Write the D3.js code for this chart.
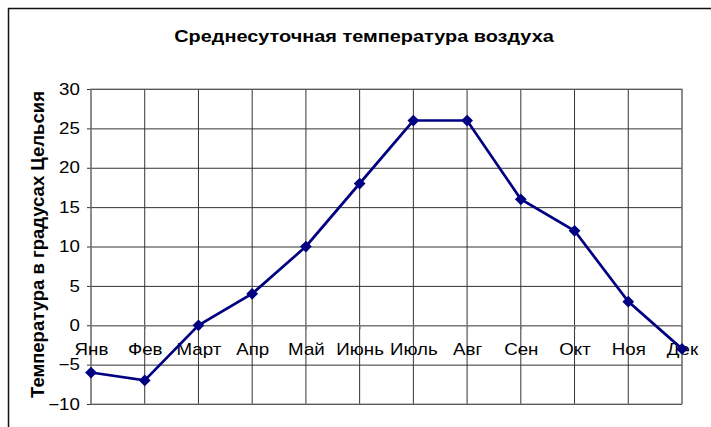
<!DOCTYPE html>
<html>
<head>
<meta charset="utf-8">
<script src="https://cdn.jsdelivr.net/npm/d3@7"></script>
<style>
  body { margin: 0; background: #fff; }
  svg { display: block; font-family: Arial, "Liberation Sans", sans-serif; }
</style>
</head>
<body>
<div id="chart"></div>
<script>
/** Data. */
const MONTHS = ["Янв", "Фев", "Март", "Апр", "Май", "Июнь", "Июль", "Авг", "Сен", "Окт", "Ноя", "Дек"];
const TEMPS = [-6, -7, 0, 4, 10, 18, 26, 26, 16, 12, 3, -3];
const Y_TICKS = [-10, -5, 0, 5, 10, 15, 20, 25, 30];
const TITLE = "Среднесуточная температура воздуха";
const Y_TITLE = "Температура в градусах Цельсия";

/** Layout. */
const WIDTH = 711;
const HEIGHT = 427;
const PLOT = {left: 91, right: 682, top: 89, bottom: 404};
const STRETCH = 1.17; // the source picture is a bit wider than tall
const LINE_COLOR = "#000080";
const GRID_COLOR = "#333";
const FONT = "Arial, 'Liberation Sans', sans-serif";

const x = d3.scalePoint()
    .domain(MONTHS)
    .range([PLOT.left, PLOT.right]);
const y = d3.scaleLinear()
    .domain([-10, 30])
    .range([PLOT.bottom, PLOT.top]);

const svg = d3.select("#chart").append("svg")
    .attr("width", WIDTH)
    .attr("height", HEIGHT);

// outer chart frame, cropped at right and bottom
svg.append("rect")
    .attr("x", 8.5)
    .attr("y", 8.5)
    .attr("width", WIDTH + 20)
    .attr("height", HEIGHT + 20)
    .attr("fill", "none")
    .attr("stroke", "#111")
    .attr("stroke-width", 1.5);

svg.append("text")
    .attr("transform", `translate(364,42) scale(${STRETCH},1)`)
    .attr("text-anchor", "middle")
    .attr("font-size", 17)
    .attr("font-weight", "bold")
    .text(TITLE);

svg.append("text")
    .attr("transform", `translate(44,${(PLOT.top + PLOT.bottom) / 2 - 2}) rotate(-90)`)
    .attr("text-anchor", "middle")
    .attr("font-size", 18.5)
    .attr("font-weight", "bold")
    .text(Y_TITLE);

// horizontal gridlines + y axis
const yAxis = d3.axisLeft(y)
    .tickValues(Y_TICKS)
    .tickSizeInner(-(PLOT.right - PLOT.left))
    .tickSizeOuter(0)
    .tickPadding(9.5)
    .tickFormat(d3.format("d"));

const gy = svg.append("g")
    .attr("transform", `translate(${PLOT.left},0)`)
    .call(yAxis);
gy.select(".domain").remove();
gy.selectAll(".tick line")
    .attr("stroke", GRID_COLOR)
    .attr("x1", -4);
gy.selectAll(".tick text")
    .attr("font-size", 16)
    .attr("font-family", FONT)
    .attr("fill", "#000")
    .attr("transform", `scale(${STRETCH},1)`);

// vertical gridlines
svg.append("g")
    .selectAll("line")
    .data(MONTHS)
    .join("line")
    .attr("x1", d => x(d))
    .attr("x2", d => x(d))
    .attr("y1", PLOT.top)
    .attr("y2", PLOT.bottom)
    .attr("stroke", GRID_COLOR);

// plot area border
svg.append("rect")
    .attr("x", PLOT.left)
    .attr("y", PLOT.top)
    .attr("width", PLOT.right - PLOT.left)
    .attr("height", PLOT.bottom - PLOT.top)
    .attr("fill", "none")
    .attr("stroke", "#808080");

// category axis crossing at zero
const xAxis = d3.axisBottom(x)
    .tickSizeInner(4)
    .tickSizeOuter(0)
    .tickPadding(14.5);
const gx = svg.append("g")
    .attr("transform", `translate(0,${y(0)})`)
    .call(xAxis);
gx.select(".domain").attr("stroke", "#808080");
gx.selectAll(".tick line").attr("stroke", "#808080");
gx.selectAll(".tick text")
    .attr("font-size", 16)
    .attr("font-family", FONT)
    .attr("fill", "#000")
    .attr("transform", `scale(${STRETCH},1)`);

// the series
const line = d3.line()
    .x((d, i) => x(MONTHS[i]))
    .y(d => y(d));

svg.append("path")
    .datum(TEMPS)
    .attr("d", line)
    .attr("fill", "none")
    .attr("stroke", LINE_COLOR)
    .attr("stroke-width", 2.7);

svg.append("g")
    .selectAll("path")
    .data(TEMPS)
    .join("path")
    .attr("transform", (d, i) => `translate(${x(MONTHS[i])},${y(d)})`)
    .attr("d", d3.symbol(d3.symbolDiamond2, 88))
    .attr("fill", LINE_COLOR);
</script>
</body>
</html>
